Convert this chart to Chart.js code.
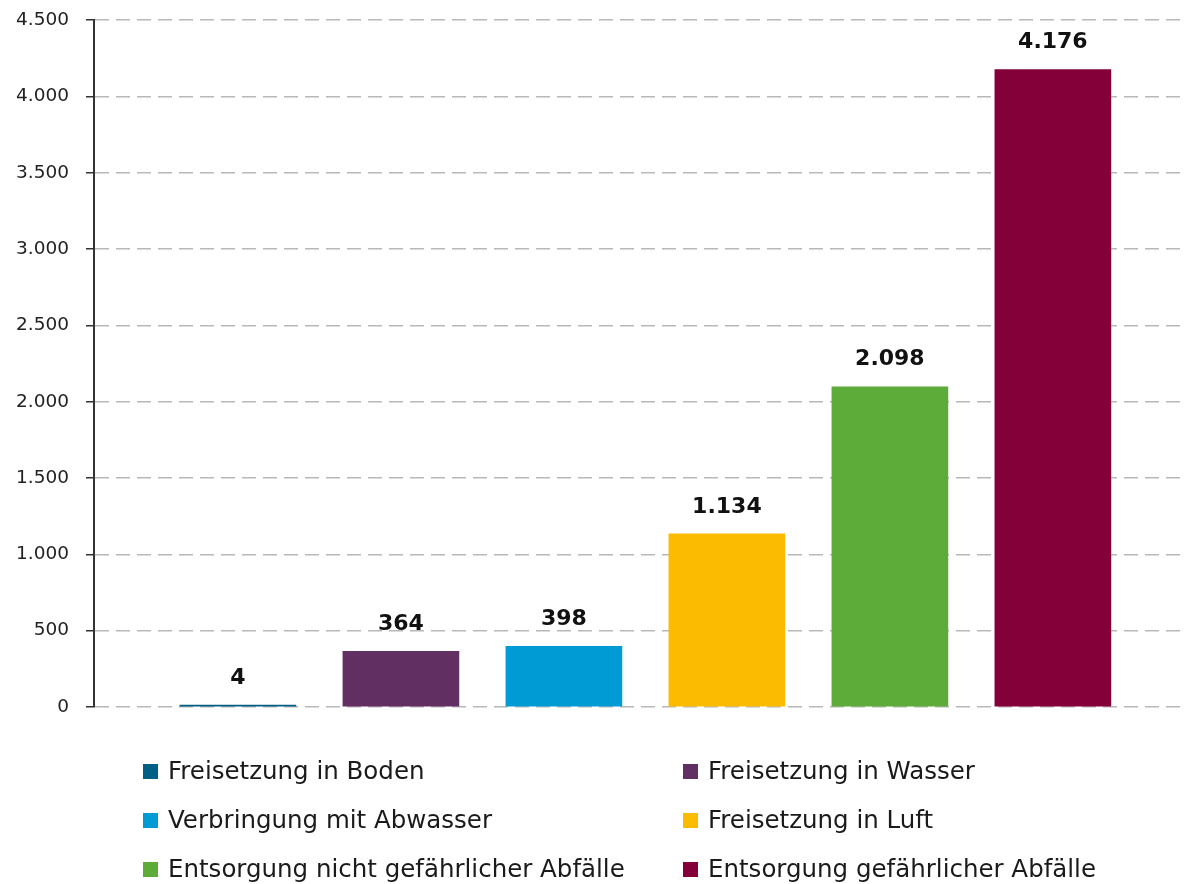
<!DOCTYPE html>
<html>
<head>
<meta charset="utf-8">
<script src="https://cdn.jsdelivr.net/npm/chart.js@4.4.1/dist/chart.umd.min.js"></script>
<style>
  body { margin: 0; background: #fff; overflow: hidden; }
  #wrap { position: relative; width: 1196px; height: 884px; overflow: hidden; }
  #chart { position: absolute; left: 0; top: -8px; }
  #legend {
    position: absolute; left: 143px; top: 746px;
    display: grid; grid-template-columns: 540px 500px;
    font-family: "DejaVu Sans", sans-serif; font-size: 24.5px; color: #1a1a1a;
  }
  #legend div { height: 49px; line-height: 49px; white-space: nowrap; }
  #legend span { display: inline-block; width: 15px; height: 15px; margin-right: 10px; vertical-align: 0px; }
</style>
</head>
<body>
<div id="wrap">
  <canvas id="chart" width="1196" height="892"></canvas>
  <div id="legend"></div>
</div>
<script>
var kategorien = [
  "Freisetzung in Boden",
  "Freisetzung in Wasser",
  "Verbringung mit Abwasser",
  "Freisetzung in Luft",
  "Entsorgung nicht gefährlicher Abfälle",
  "Entsorgung gefährlicher Abfälle"
];
var werte = [4, 364, 398, 1134, 2098, 4176];
var farben = ["#005f85", "#622f63", "#009bd5", "#fabb00", "#5dab39", "#830039"];
var yTicks = [0, 500, 1000, 1500, 2000, 2500, 3000, 3500, 4000, 4500];

function fmt(v) {
  return String(v).replace(/\B(?=(\d{3})+(?!\d))/g, ".");
}

var punkte = werte.map(function (v, i) { return { x: i + 1, y: v }; });

var valueLabels = {
  id: 'valueLabels',
  afterDatasetsDraw: function (chart) {
    var ctx = chart.ctx;
    var meta = chart.getDatasetMeta(0);
    ctx.save();
    ctx.font = 'bold 22px "DejaVu Sans", sans-serif';
    ctx.fillStyle = '#111';
    ctx.textAlign = 'center';
    ctx.textBaseline = 'middle';
    meta.data.forEach(function (bar, i) {
      ctx.fillText(fmt(werte[i]), bar.x, bar.y - 27);
    });
    ctx.restore();
  }
};

var ctx = document.getElementById("chart");
var chart = new Chart(ctx, {
  type: 'bar',
  data: {
    labels: kategorien,
    datasets: [{
      data: punkte,
      backgroundColor: farben,
      borderWidth: 0,
      minBarLength: 2,
      barThickness: 116
    }]
  },
  options: {
    responsive: false,
    animation: false,
    layout: { padding: { left: 0, right: 16, top: 11, bottom: 177 } },
    plugins: {
      legend: { display: false },
      tooltip: { enabled: false }
    },
    scales: {
      x: {
        type: 'linear',
        min: 0.117,
        max: 6.78,
        offset: false,
        display: false
      },
      y: {
        min: 0,
        max: 4500,
        afterFit: function (scale) { scale.width = 94; },
        afterBuildTicks: function (scale) {
          scale.ticks = yTicks.map(function (v) { return { value: v }; });
        },
        border: { display: true, color: '#333', width: 2, dash: [14, 7] },
        grid: {
          color: '#b8b8b8',
          lineWidth: 1.5,
          tickLength: 8,
          tickColor: '#333',
          tickWidth: 1.5
        },
        ticks: {
          padding: 17,
          color: '#222',
          font: { family: '"DejaVu Sans", sans-serif', size: 18.5 },
          callback: function (v) { return fmt(v); }
        }
      }
    }
  },
  plugins: [valueLabels]
});

var legend = document.getElementById('legend');
kategorien.forEach(function (k, i) {
  var d = document.createElement('div');
  var s = document.createElement('span');
  s.style.background = farben[i];
  d.appendChild(s);
  d.appendChild(document.createTextNode(k));
  legend.appendChild(d);
});
</script>
</body>
</html>
